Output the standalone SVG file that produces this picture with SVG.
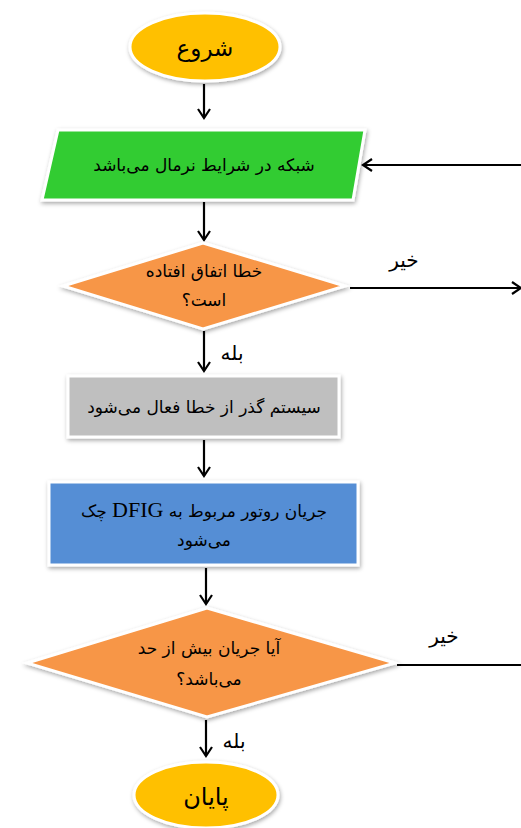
<svg xmlns="http://www.w3.org/2000/svg" width="521" height="828" viewBox="0 0 521 828">
<defs>
<filter id="sh" x="-10%" y="-10%" width="125%" height="135%">
<feDropShadow dx="1" dy="2" stdDeviation="2" flood-color="#000" flood-opacity="0.35"/>
</filter>
<marker id="arr" markerWidth="14" markerHeight="14" refX="11" refY="7" orient="auto" markerUnits="userSpaceOnUse">
<path d="M2,1 L11,7 L2,13" fill="none" stroke="#000" stroke-width="2.2"/>
</marker>
</defs>
<style>
.shape{stroke:#fff;stroke-width:3;filter:url(#sh)}
.t{font-family:"DejaVu Sans",sans-serif;font-size:17px;fill:#000;text-anchor:middle;direction:rtl}
.lbl{font-family:"DejaVu Sans",sans-serif;font-size:20px;fill:#000;text-anchor:middle;direction:rtl}
.c{fill:none;stroke:#000;stroke-width:2.2}
</style>
<rect width="521" height="828" fill="#fff"/>
<g id="connectors">
<line class="c" x1="204" y1="84" x2="204" y2="118" marker-end="url(#arr)"/>
<line class="c" x1="204" y1="202" x2="204" y2="240" marker-end="url(#arr)"/>
<line class="c" x1="521" y1="165" x2="363" y2="165" marker-end="url(#arr)"/>
<line class="c" x1="350" y1="288" x2="521" y2="288" marker-end="url(#arr)"/>
<line class="c" x1="204" y1="331" x2="204" y2="371" marker-end="url(#arr)"/>
<line class="c" x1="204" y1="440" x2="204" y2="476" marker-end="url(#arr)"/>
<line class="c" x1="206" y1="568" x2="206" y2="604" marker-end="url(#arr)"/>
<line class="c" x1="397" y1="665" x2="521" y2="665"/>
<line class="c" x1="206" y1="720" x2="206" y2="756" marker-end="url(#arr)"/>
<text class="lbl" x="404" y="267">خیر</text>
<text class="lbl" x="232" y="360">بله</text>
<text class="lbl" x="444" y="643">خیر</text>
<text class="lbl" x="234" y="748">بله</text>
</g>
<g id="start">
<ellipse class="shape" cx="205" cy="47" rx="75" ry="34" fill="#FFC000"/>
<text class="t" x="205" y="56" style="font-size:23px">شروع</text>
</g>
<g id="normal">
<polygon class="shape" points="58,130 365,130 353,200 42,200" fill="#33CC33"/>
<text class="t" x="204" y="171">شبکه در شرایط نرمال می‌باشد</text>
</g>
<g id="fault">
<polygon class="shape" points="203,243 345,286 203,329 63,286" fill="#F79646"/>
<text class="t" x="204" y="277">خطا اتفاق افتاده</text>
<text class="t" x="204" y="306">است؟</text>
</g>
<g id="ride">
<rect class="shape" x="68" y="376" width="271" height="61" fill="#BFBFBF"/>
<text class="t" x="204" y="413">سیستم گذر از خطا فعال می‌شود</text>
</g>
<g id="check">
<rect class="shape" x="49" y="482" width="309" height="83" fill="#558ED5"/>
<text class="t" x="204" y="517">جریان روتور مربوط به <tspan style="font-family:'Liberation Serif',serif;font-size:22px">DFIG</tspan> چک</text>
<text class="t" x="204" y="546">می‌شود</text>
</g>
<g id="over">
<polygon class="shape" points="207,608 395,663 207,717 27,663" fill="#F79646"/>
<text class="t" x="209" y="654">آیا جریان بیش از حد</text>
<text class="t" x="209" y="685">می‌باشد؟</text>
</g>
<g id="end">
<ellipse class="shape" cx="206" cy="795" rx="72" ry="33" fill="#FFC000"/>
<text class="t" x="206" y="805" style="font-size:24px">پایان</text>
</g>
</svg>
